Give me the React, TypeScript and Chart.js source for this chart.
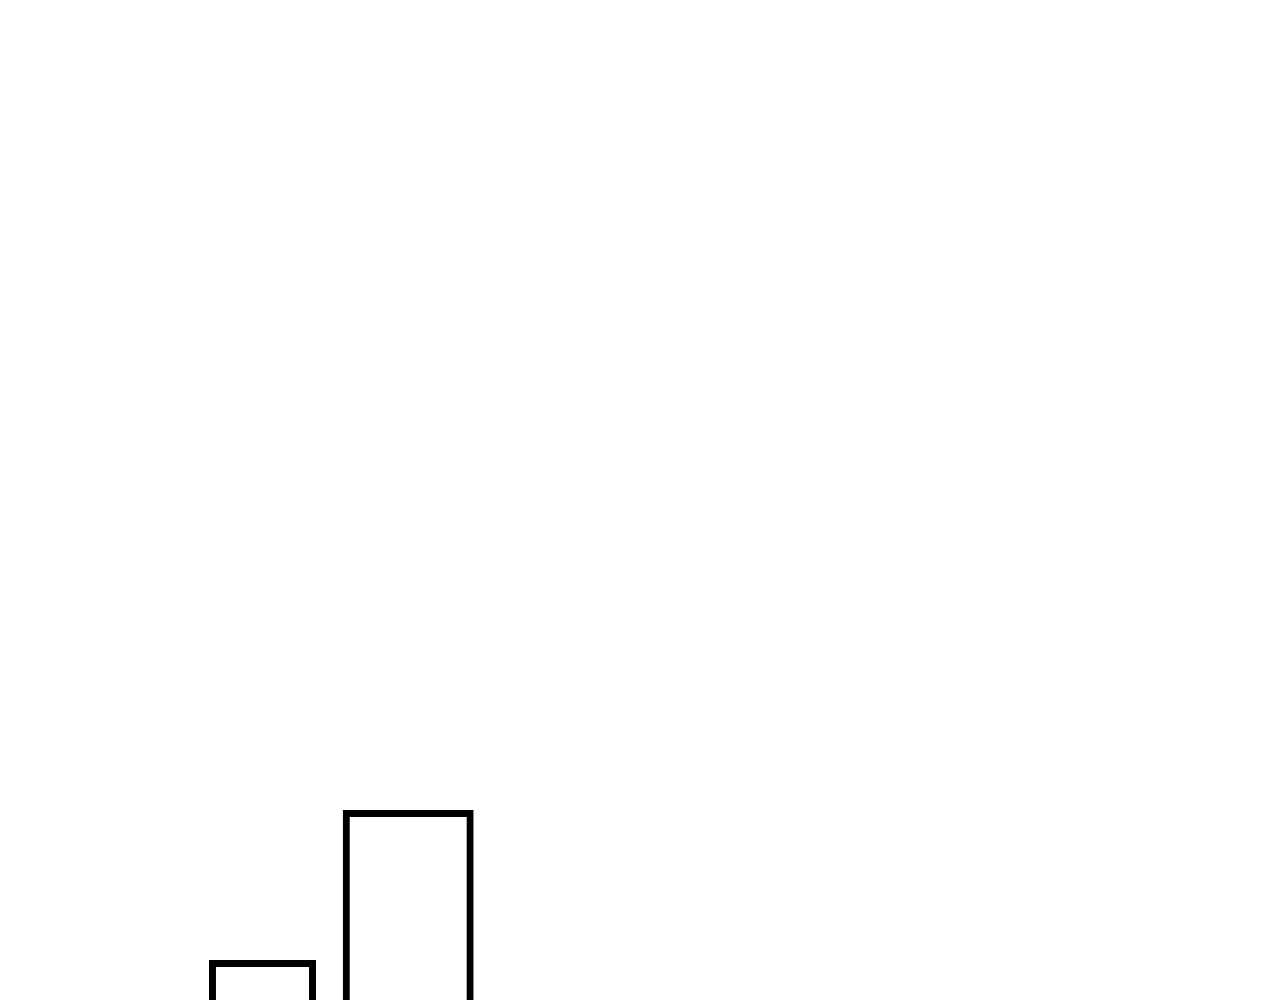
import React, { useEffect, useRef } from "react";
import { Chart, registerables } from "chart.js";

Chart.register(...registerables);

// Data
const categories = ["A", "B"];
const firstSeries = [3, null];
const secondSeries = [null, 4];

// Styles (kept apart from data)
const BAR_THICKNESS_FIRST = 106.4;
const BAR_THICKNESS_SECOND = 130.3;
const BORDER_WIDTH = 7;

export default function App() {
  const canvasRef = useRef<HTMLCanvasElement | null>(null);

  useEffect(() => {
    if (!canvasRef.current) return;
    const chart = new Chart(canvasRef.current, {
      type: "bar",
      data: {
        labels: categories,
        datasets: [
          {
            label: "first",
            data: firstSeries,
            backgroundColor: "#ffffff",
            borderColor: "#000000",
            borderWidth: BORDER_WIDTH,
            barThickness: BAR_THICKNESS_FIRST,
            grouped: false,
          },
          {
            label: "second",
            data: secondSeries,
            backgroundColor: "#ffffff",
            borderColor: "#000000",
            borderWidth: BORDER_WIDTH,
            barThickness: BAR_THICKNESS_SECOND,
            grouped: false,
          },
        ] as any,
      },
      options: {
        animation: false,
        responsive: true,
        maintainAspectRatio: false,
        layout: {
          padding: { left: 189.65, right: 798.95, top: 60.4, bottom: 0.6 },
        },
        plugins: {
          legend: { display: false },
          tooltip: { enabled: false },
          title: { display: false },
        },
        scales: {
          x: { display: false, offset: true },
          y: { display: false, min: 0, max: 9 },
        },
      },
    });
    return () => chart.destroy();
  }, []);

  return (
    <div
      style={{
        position: "fixed",
        left: 0,
        top: 0,
        width: 1280,
        height: 1000,
        overflow: "hidden",
        background: "#ffffff",
      }}
    >
      <div style={{ position: "absolute", left: 0, top: 0, width: 1280, height: 1411 }}>
        <canvas ref={canvasRef} />
      </div>
    </div>
  );
}
